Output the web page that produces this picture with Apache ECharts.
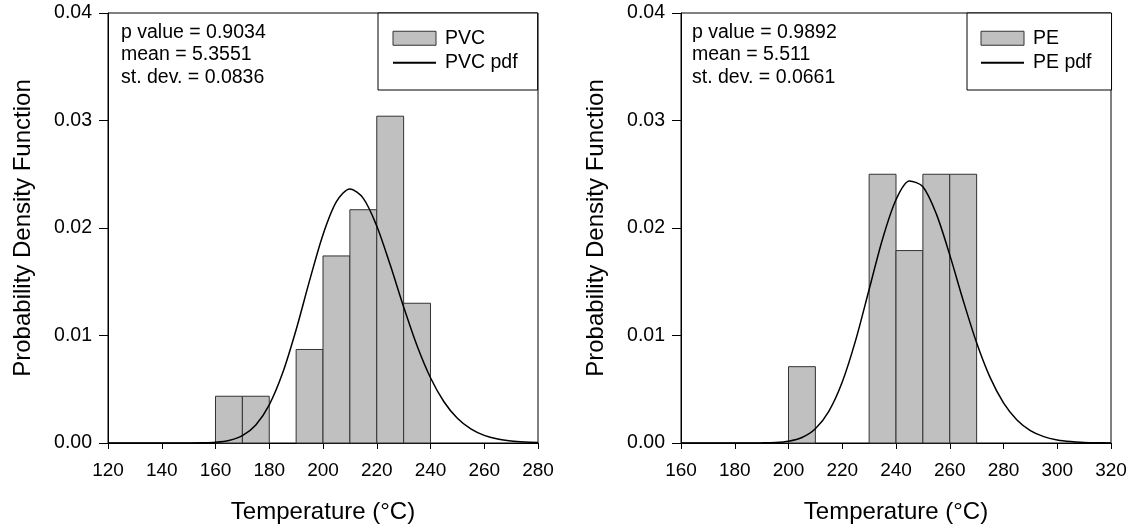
<!DOCTYPE html>
<html>
<head>
<meta charset="UTF-8">
<title>PDF</title>
<script src="https://cdn.jsdelivr.net/npm/echarts@6/dist/echarts.min.js"></script>
<style type="text/css">
html, body {
	width: 100%;
	height: 100%;
	padding: 0px;
	margin: 0px;
	background: #fff;
}
</style>
</head>
<body>
	<div id="chart" style="width: 1138px; height: 531px;"></div>

	<script type="text/javascript">
        // histogram bins (left edge, 10 wide) and densities
        var binWidth = 10;
        var pvcBinStart = [160, 170, 190, 200, 210, 220, 230];
        var pvcDensity = [0.00435, 0.00435, 0.0087, 0.0174, 0.0217, 0.0304, 0.0130];
        var peBinStart = [200, 230, 240, 250, 260];
        var peDensity = [0.0071, 0.0250, 0.0179, 0.0250, 0.0250];

        // fitted pdf curves
        var pvcCurveX = [120, 125, 130, 135, 140, 145, 150, 155, 160, 165, 170, 175, 180, 185, 190, 195, 200,
                         205, 210, 215, 220, 225, 230, 235, 240, 245, 250, 255, 260, 265, 270, 275, 280];
        var pvcCurveY = [0, 0, 0, 0, 0.0000001, 0.0000005, 0.0000031, 0.0000163, 0.0000684, 0.000237, 0.000685,
                         0.001682, 0.003553, 0.006526, 0.010538, 0.015104, 0.019382, 0.022445, 0.023628, 0.022761,
                         0.020185, 0.016572, 0.012661, 0.009043, 0.006066, 0.003835, 0.002296, 0.001305, 0.000706,
                         0.000365, 0.000181, 0.000086, 0.000039];
        var peCurveX = [160, 165, 170, 175, 180, 185, 190, 195, 200, 205, 210, 215, 220, 225, 230, 235, 240,
                        245, 250, 255, 260, 265, 270, 275, 280, 285, 290, 295, 300, 305, 310, 315, 320];
        var peCurveY = [0, 0, 0, 0, 0, 0.000002, 0.000011, 0.000047, 0.000171, 0.000516, 0.001329, 0.002945,
                        0.005671, 0.009570, 0.014280, 0.018980, 0.022630, 0.024368, 0.023842, 0.021314, 0.017502,
                        0.013263, 0.009323, 0.006100, 0.003732, 0.002143, 0.001158, 0.000591, 0.000286, 0.000132,
                        0.000058, 0.000024, 0.000010];

        // fit statistics: p value, mean, st. dev.
        var pvcStats = ['0.9034', '5.3551', '0.0836'];
        var peStats = ['0.9892', '5.511', '0.0661'];

        var xLeftTicks = [120, 280];
        var xRightTicks = [160, 320];

        var FONT = "'Liberation Sans', Arial, sans-serif";

        function bins(starts, dens) {
            return starts.map(function (s, i) { return [s, s + binWidth, dens[i]]; });
        }
        function pairs(xs, ys) {
            return xs.map(function (x, i) { return [x, ys[i]]; });
        }
        function statText(s) {
            return 'p value = ' + s[0] + '\nmean = ' + s[1] + '\nst. dev. = ' + s[2];
        }

        function histItem(params, api) {
            var p0 = api.coord([api.value(0), api.value(2)]);
            var p1 = api.coord([api.value(1), 0]);
            return {
                type: 'rect',
                shape: { x: p0[0], y: p0[1], width: p1[0] - p0[0], height: p1[1] - p0[1] },
                style: { fill: '#c0c0c0', stroke: '#333', lineWidth: 1 }
            };
        }

        function xAxisOf(idx, range) {
            return {
                type: 'value', gridIndex: idx, min: range[0], max: range[1], interval: 20,
                name: 'Temperature (°C)', nameLocation: 'middle', nameGap: 57,
                nameTextStyle: { fontFamily: FONT, fontSize: 24, color: '#000' },
                axisLine: { lineStyle: { color: '#000', width: 1 } },
                axisTick: { length: 6, lineStyle: { color: '#000' } },
                axisLabel: { margin: 18, fontFamily: FONT, fontSize: 19, color: '#000' },
                splitLine: { show: false }
            };
        }
        function yAxisOf(idx) {
            return {
                type: 'value', gridIndex: idx, min: 0, max: 0.04, interval: 0.01,
                name: 'Probability Density Function', nameLocation: 'middle', nameGap: 73,
                nameTextStyle: { fontFamily: FONT, fontSize: 24, color: '#000' },
                axisLine: { show: true, lineStyle: { color: '#000', width: 1 } },
                axisTick: { show: true, length: 9, lineStyle: { color: '#000' } },
                axisLabel: { margin: 16, fontFamily: FONT, fontSize: 19.5, color: '#000',
                             formatter: function (v) { return v.toFixed(2); } },
                splitLine: { show: false }
            };
        }
        function legendOf(names, left, pad) {
            return {
                orient: 'vertical', left: left, top: 13,
                padding: pad, itemGap: 4.5, itemWidth: 43, itemHeight: 14,
                borderColor: '#000', borderWidth: 1, borderRadius: 0, backgroundColor: '#fff',
                textStyle: { fontFamily: FONT, fontSize: 19.5, color: '#000', padding: [0, 0, 0, 4] },
                data: [
                    { name: names[0], icon: 'rect',
                      itemStyle: { color: '#c0c0c0', borderColor: '#333', borderWidth: 1 } },
                    { name: names[1], itemStyle: { opacity: 0 } }
                ]
            };
        }

        var myChart = echarts.init(document.getElementById('chart'));
        myChart.setOption({
            animation: false,
            backgroundColor: '#fff',
            grid: [
                { left: 108, top: 13, width: 430, height: 430, show: true, borderColor: '#000', borderWidth: 1 },
                { left: 681, top: 13, width: 430, height: 430, show: true, borderColor: '#000', borderWidth: 1 }
            ],
            xAxis: [xAxisOf(0, xLeftTicks), xAxisOf(1, xRightTicks)],
            yAxis: [yAxisOf(0), yAxisOf(1)],
            title: [
                { text: statText(pvcStats), left: 121, top: 21, padding: 0,
                  textStyle: { fontFamily: FONT, fontSize: 19.5, fontWeight: 'normal', color: '#000', lineHeight: 22.5 } },
                { text: statText(peStats), left: 692, top: 21, padding: 0,
                  textStyle: { fontFamily: FONT, fontSize: 19.5, fontWeight: 'normal', color: '#000', lineHeight: 22.5 } }
            ],
            legend: [
                legendOf(['PVC', 'PVC pdf'], 378, [15.25, 20, 17.25, 14]),
                legendOf(['PE', 'PE pdf'], 967, [15.25, 20, 17.25, 13])
            ],
            series: [
                { name: 'PVC', type: 'custom', xAxisIndex: 0, yAxisIndex: 0, renderItem: histItem,
                  encode: { x: [0, 1], y: 2 }, data: bins(pvcBinStart, pvcDensity) },
                { name: 'PVC pdf', type: 'line', xAxisIndex: 0, yAxisIndex: 0, smooth: 0.3, symbol: 'none',
                  lineStyle: { color: '#000', width: 1.5 }, itemStyle: { color: '#000' }, z: 3,
                  data: pairs(pvcCurveX, pvcCurveY) },
                { name: 'PE', type: 'custom', xAxisIndex: 1, yAxisIndex: 1, renderItem: histItem,
                  encode: { x: [0, 1], y: 2 }, data: bins(peBinStart, peDensity) },
                { name: 'PE pdf', type: 'line', xAxisIndex: 1, yAxisIndex: 1, smooth: 0.3, symbol: 'none',
                  lineStyle: { color: '#000', width: 1.5 }, itemStyle: { color: '#000' }, z: 3,
                  data: pairs(peCurveX, peCurveY) }
            ]
        });
	</script>
</body>
</html>
